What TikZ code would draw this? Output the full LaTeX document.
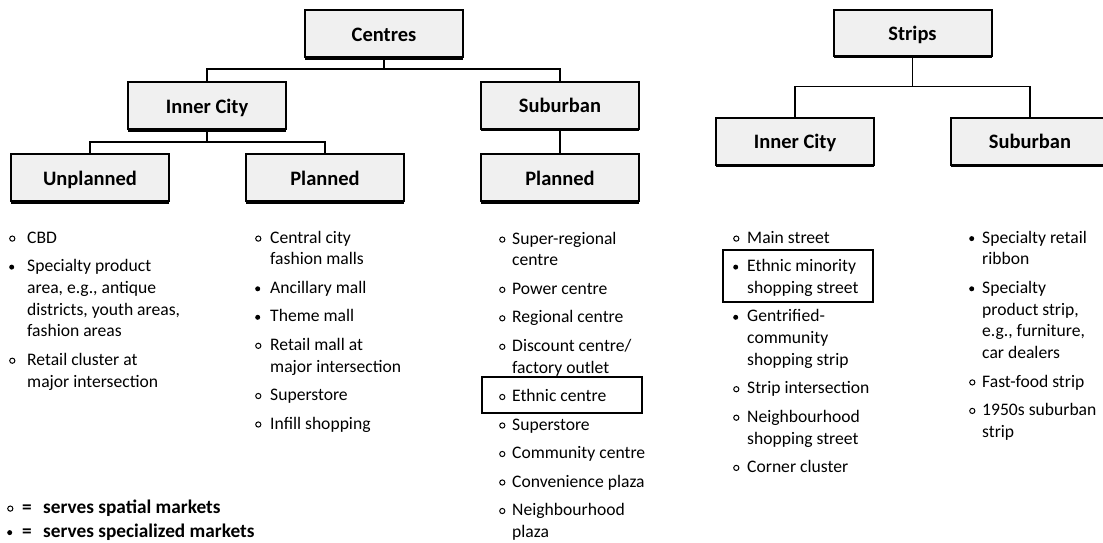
\documentclass[tikz,border=0pt]{standalone}
\usepackage{fontspec}
\setmainfont{Carlito}
\newcommand{\ob}{\tikz[baseline=0pt,x=1pt,y=1pt]\draw[line width=1pt] (3,4.6) circle[radius=2.6pt];}
\newcommand{\fb}{\tikz[baseline=0pt,x=1pt,y=1pt]\fill (3,4.6) circle[radius=2.5pt];}
\newlength{\bw}
\newcommand{\itm}[2]{\hangindent=\bw\hangafter=1\noindent\makebox[\bw][l]{#1}\rule{0pt}{14pt}#2\par}
\newcommand{\colsetup}[1]{\setlength{\bw}{#1}\setlength{\parskip}{6.8pt}\rightskip=0pt plus 1fil\spaceskip=\fontdimen2\font\relax}
\tikzset{
  catbox/.style={draw, line width=2pt, fill=gray!12, minimum width=158pt, minimum height=47pt,
    inner sep=0pt, outer sep=0pt, text height=15pt, text depth=0pt,
    font=\fontsize{20.5}{22}\selectfont\bfseries},
  conn/.style={line width=1.3pt},
  listcol/.style={anchor=north west, inner sep=0pt, text width=#1, align=left,
    font=\fontsize{17.6}{21.7}\selectfont},
  hilite/.style={draw, line width=2.5pt},
}
\begin{document}
\begin{tikzpicture}[x=1pt,y=-1pt]
\useasboundingbox (0,0) rectangle (1103,542);
\clip (0,0) rectangle (1103,542);
% category boxes
\node[catbox] (centres) at (384,33.5) {Centres};
\node[catbox] (ic1) at (207,105.5) {Inner City};
\node[catbox] (sub1) at (560,105) {Suburban};
\node[catbox] (unpl) at (90,177.5) {Unplanned};
\node[catbox] (plan1) at (325,177.5) {Planned};
\node[catbox] (plan2) at (560,177.5) {Planned};
\node[catbox, minimum height=46pt] (strips) at (912.5,32.5) {Strips};
\node[catbox] (ic2) at (795,141) {Inner City};
\node[catbox] (sub2) at (1030,141) {Suburban};
\foreach \n in {centres,ic1,sub1,unpl,plan1,plan2,strips,ic2,sub2}
  \draw[line width=3pt] ([yshift=-1pt]\n.south west) -- ([yshift=-1pt]\n.south east);
% connectors
\draw[conn] (centres.south) -- ++(0,12);
\draw[conn] (ic1.north) -- ++(0,-13) -| (sub1.north);
\draw[conn] (ic1.south) -- ++(0,13);
\draw[conn] (unpl.north) -- ++(0,-12) -| (plan1.north);
\draw[conn] (sub1.south) -- (plan2.north);
\draw[conn] (strips.south) -- ++(0,31.5);
\draw[conn] (ic2.north) -- ++(0,-31) -| (sub2.north);
% lists
\node[listcol=200pt] (l1) at (9,229) {\colsetup{18pt}%
\itm{\ob}{CBD}
\itm{\fb}{Specialty product\newline area, e.g., antique\newline districts, youth areas,\newline fashion areas}
\itm{\ob}{Retail cluster at\newline major intersection}};
\node[listcol=200pt] (l2) at (255,229) {\colsetup{15pt}%
\itm{\ob}{Central city\newline fashion malls}
\itm{\fb}{Ancillary mall}
\itm{\fb}{Theme mall}
\itm{\ob}{Retail mall at\newline major intersection}
\itm{\ob}{Superstore}
\itm{\ob}{Infill shopping}};
\node[listcol=200pt] (l3) at (499,230) {\colsetup{13pt}%
\itm{\ob}{Super-regional\newline centre}
\itm{\ob}{Power centre}
\itm{\ob}{Regional centre}
\itm{\ob}{Discount centre/\newline factory outlet}
\itm{\ob}{Ethnic centre}
\itm{\ob}{Superstore}
\itm{\ob}{Community centre}
\itm{\ob}{Convenience plaza}
\itm{\ob}{Neighbourhood\newline plaza}};
\node[listcol=200pt] (l4) at (733,229) {\colsetup{14pt}%
\itm{\ob}{Main street}
\itm{\fb}{Ethnic minority\newline shopping street}
\itm{\fb}{Gentrified-\newline community\newline shopping strip}
\itm{\ob}{Strip intersection}
\itm{\ob}{Neighbourhood\newline shopping street}
\itm{\ob}{Corner cluster}};
\node[listcol=130pt] (l5) at (969,229) {\colsetup{13pt}%
\itm{\fb}{Specialty retail\newline ribbon}
\itm{\fb}{Specialty\newline product strip,\newline e.g., furniture,\newline car dealers}
\itm{\ob}{Fast-food strip}
\itm{\ob}{1950s suburban\newline strip}};
% highlight frames
\draw[hilite] (482,377) rectangle (642,413);
\draw[hilite] (723,250) rectangle (873,302);
% legend
\node[anchor=north west, inner sep=0pt, text width=320pt, align=left,
  font=\fontsize{19.3}{24}\selectfont\bfseries] (legend) at (7,498)
  {\spaceskip=\fontdimen2\font\rule{0pt}{15pt}\makebox[15pt][l]{\ob}\makebox[21pt][l]{=}serves spatial markets\\
   \makebox[15pt][l]{\fb}\makebox[21pt][l]{=}serves specialized markets};
\end{tikzpicture}
\end{document}
